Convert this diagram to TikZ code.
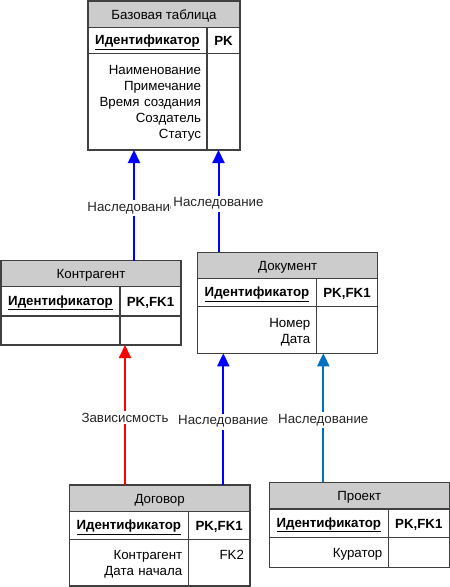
\documentclass[tikz,border=0pt]{standalone}
\usepackage{fontspec}
\setmainfont{Liberation Sans}
\usetikzlibrary{arrows.meta}

\definecolor{headc}{RGB}{204,204,204}
\definecolor{bordc}{RGB}{64,64,64}
\definecolor{inhb}{RGB}{0,112,192}
\newcommand\tabfont{\fontsize{13.3}{16}\selectfont}

\begin{document}
\begin{tikzpicture}[x=1pt,y=-1pt,font=\tabfont,
  cl/.style={draw=bordc,line width=1.2pt,inner sep=0pt,outer sep=0pt,anchor=north west,
    execute at begin node={\rule[-3pt]{0pt}{16pt}}},
  hd/.style={cl,fill=headc},
  key/.style={cl,font=\tabfont\bfseries},
  attr/.style={cl,inner xsep=6pt,align=right},
  inh/.style={draw=blue,line width=2pt,-{Triangle[width=12pt,length=13pt]}},
  lbl/.style={fill=white,inner sep=2pt,yshift=-2.5pt,text=black!85}]
\useasboundingbox (0,0) rectangle (450,587);
% Базовая таблица
\node[hd,minimum width=152,minimum height=26.7] (btHead) at (88,1) {Базовая таблица};
\node[key,minimum width=119,minimum height=25.6] (btKey) at (btHead.south west) {\underline{Идентификатор}};
\node[key,minimum width=33,minimum height=25.6] (btKeyT) at (btKey.north east) {PK};
\node[attr,text width=107,minimum height=96.7] (btAttr) at (btKey.south west) {Наименование\\Примечание\\Время создания\\Создатель\\Статус};
\node[cl,minimum width=33,minimum height=96.7] (btAttrT) at (btAttr.north east) {};
% Контрагент
\node[hd,minimum width=180,minimum height=26] (kaHead) at (1,260.7) {Контрагент};
\node[key,minimum width=119,minimum height=29.3] (kaKey) at (kaHead.south west) {\underline{Идентификатор}};
\node[key,minimum width=61,minimum height=29.3] (kaKeyT) at (kaKey.north east) {PK,FK1};
\node[attr,text width=107,minimum height=29] (kaAttr) at (kaKey.south west) {};
\node[cl,minimum width=61,minimum height=29] (kaAttrT) at (kaAttr.north east) {};
% Документ
\node[hd,minimum width=180,minimum height=26.4] (dkHead) at (197.7,252.3) {Документ};
\node[key,minimum width=118.6,minimum height=28] (dkKey) at (dkHead.south west) {\underline{Идентификатор}};
\node[key,minimum width=61.4,minimum height=28] (dkKeyT) at (dkKey.north east) {PK,FK1};
\node[attr,text width=106.6,minimum height=46.6] (dkAttr) at (dkKey.south west) {Номер\\Дата};
\node[cl,minimum width=61.4,minimum height=46.6] (dkAttrT) at (dkAttr.north east) {};
% Договор
\node[hd,minimum width=180.7,minimum height=26.7] (dgHead) at (69.3,485) {Договор};
\node[key,minimum width=119,minimum height=27.6] (dgKey) at (dgHead.south west) {\underline{Идентификатор}};
\node[key,minimum width=61.7,minimum height=27.6] (dgKeyT) at (dgKey.north east) {PK,FK1};
\node[attr,text width=107,minimum height=46.7] (dgAttr) at (dgKey.south west) {Контрагент\\Дата начала};
\node[attr,text width=49.7,minimum height=46.7] (dgAttrT) at (dgAttr.north east) {FK2\\\phantom{Д}};
% Проект
\node[hd,minimum width=180,minimum height=26.7] (prHead) at (269.3,482.3) {Проект};
\node[key,minimum width=119,minimum height=28.3] (prKey) at (prHead.south west) {\underline{Идентификатор}};
\node[key,minimum width=61,minimum height=28.3] (prKeyT) at (prKey.north east) {PK,FK1};
\node[attr,text width=107,minimum height=30] (prAttr) at (prKey.south west) {Куратор};
\node[cl,minimum width=61,minimum height=30] (prAttrT) at (prAttr.north east) {};
% связи
\coordinate (c1) at (134,0);
\coordinate (c2) at (218.5,0);
\coordinate (c3) at (125,0);
\coordinate (c4) at (223.3,0);
\coordinate (c5) at (323.3,0);
\draw[inh] (kaHead.north -| c1) -- node[lbl,xshift=-1.5pt] {Наследование} (btAttr.south -| c1);
\draw[inh] (dkHead.north -| c2) -- node[lbl] {Наследование} (btAttrT.south -| c2);
\draw[inh,draw=red] (dgHead.north -| c3) -- node[lbl] {Зависисмость} (kaAttr.south -| c3);
\draw[inh] (dgHead.north -| c4) -- node[lbl] {Наследование} (dkAttr.south -| c4);
\draw[inh,draw=inhb] (prHead.north -| c5) -- node[lbl] {Наследование} (dkAttrT.south -| c5);
\end{tikzpicture}
\end{document}
